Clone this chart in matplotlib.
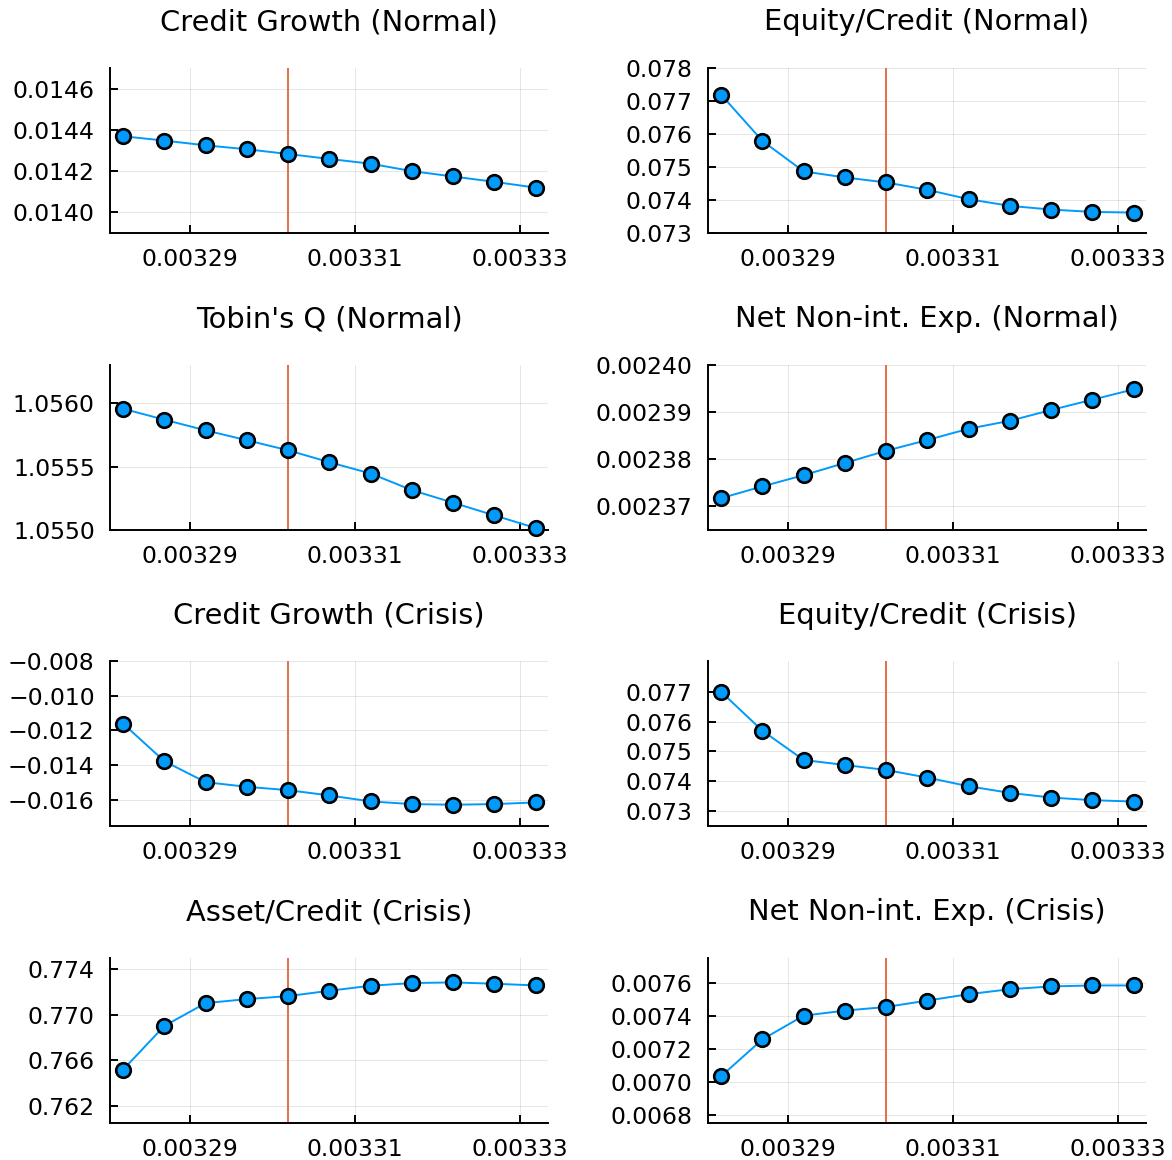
import matplotlib
matplotlib.use("Agg")
import matplotlib.pyplot as plt

plt.rcParams["font.family"] = ["DejaVu Sans"]

# shared x grid and the reference value (vertical line)
x = [0.0032819, 0.0032869, 0.0032919, 0.0032969, 0.0033019, 0.0033069,
     0.0033119, 0.0033169, 0.0033219, 0.0033269, 0.0033319]
x_ref = 0.0033019
xticks = [0.00329, 0.00331, 0.00333]
xtick_labels = ["0.00329", "0.00331", "0.00333"]

titles = [
    "Credit Growth (Normal)", "Equity/Credit (Normal)",
    "Tobin's Q (Normal)", "Net Non-int. Exp. (Normal)",
    "Credit Growth (Crisis)", "Equity/Credit (Crisis)",
    "Asset/Credit (Crisis)", "Net Non-int. Exp. (Crisis)",
]

credit_growth_normal = [0.014369, 0.014348, 0.014325, 0.014306, 0.014283, 0.014259,
                        0.014236, 0.014200, 0.014174, 0.014148, 0.014120]
equity_credit_normal = [0.077189, 0.075789, 0.074866, 0.074684, 0.074531, 0.074308,
                        0.074024, 0.073822, 0.073710, 0.073639, 0.073619]
tobins_q_normal = [1.055955, 1.055869, 1.055785, 1.055707, 1.055628, 1.055534,
                   1.055445, 1.055314, 1.055215, 1.055115, 1.055016]
net_nonint_normal = [0.0023716, 0.0023741, 0.0023765, 0.0023791, 0.0023817, 0.0023840,
                     0.0023864, 0.0023881, 0.0023904, 0.0023926, 0.0023948]
credit_growth_crisis = [-0.011617, -0.013780, -0.014986, -0.015254, -0.015445, -0.015751,
                        -0.016096, -0.016249, -0.016287, -0.016249, -0.016153]
equity_credit_crisis = [0.077000, 0.075693, 0.074710, 0.074542, 0.074374, 0.074117,
                        0.073827, 0.073603, 0.073447, 0.073358, 0.073313]
asset_credit_crisis = [0.765196, 0.769040, 0.771036, 0.771388, 0.771652, 0.772122,
                       0.772562, 0.772797, 0.772855, 0.772738, 0.772591]
net_nonint_crisis = [0.007034, 0.007258, 0.007402, 0.007433, 0.007455, 0.007494,
                     0.007533, 0.007563, 0.007580, 0.007586, 0.007586]

series = [credit_growth_normal, equity_credit_normal, tobins_q_normal, net_nonint_normal,
          credit_growth_crisis, equity_credit_crisis, asset_credit_crisis, net_nonint_crisis]

ylims = [(0.01390, 0.01470), (0.0730, 0.0780), (1.05500, 1.05630), (0.0023648, 0.0024000),
         (-0.017512, -0.008), (0.07249, 0.07804), (0.7605, 0.7750), (0.006749, 0.007753)]

yticks = [
    ([0.0140, 0.0142, 0.0144, 0.0146], ["0.0140", "0.0142", "0.0144", "0.0146"]),
    ([0.073, 0.074, 0.075, 0.076, 0.077, 0.078], ["0.073", "0.074", "0.075", "0.076", "0.077", "0.078"]),
    ([1.0550, 1.0555, 1.0560], ["1.0550", "1.0555", "1.0560"]),
    ([0.00237, 0.00238, 0.00239, 0.00240], ["0.00237", "0.00238", "0.00239", "0.00240"]),
    ([-0.016, -0.014, -0.012, -0.010, -0.008],
     ["\u22120.016", "\u22120.014", "\u22120.012", "\u22120.010", "\u22120.008"]),
    ([0.073, 0.074, 0.075, 0.076, 0.077], ["0.073", "0.074", "0.075", "0.076", "0.077"]),
    ([0.762, 0.766, 0.770, 0.774], ["0.762", "0.766", "0.770", "0.774"]),
    ([0.0068, 0.0070, 0.0072, 0.0074, 0.0076], ["0.0068", "0.0070", "0.0072", "0.0074", "0.0076"]),
]

W, H = 1172, 1160
fig = plt.figure(figsize=(W / 100, H / 100), dpi=100)

col_left = [110, 708]
ax_w = 438
row_top = [68, 365, 661, 958]
ax_h = 165

for i, y in enumerate(series):
    r, c = divmod(i, 2)
    ax = fig.add_axes([col_left[c] / W, 1 - (row_top[r] + ax_h) / H, ax_w / W, ax_h / H])
    ax.grid(True, color="black", alpha=0.1, linewidth=0.7)
    ax.set_axisbelow(True)
    ax.plot(x, y, color="#009AFA", linewidth=1.4, marker="o", markersize=10.5,
            markerfacecolor="#009AFA", markeredgecolor="black", markeredgewidth=1.9,
            clip_on=False, zorder=3)
    ax.axvline(x_ref, color="#E36F47", linewidth=1.4, zorder=2)
    ax.set_xlim(0.0032803, 0.0033334)
    ax.set_ylim(*ylims[i])
    ax.set_xticks(xticks)
    ax.set_xticklabels(xtick_labels)
    ax.set_yticks(yticks[i][0])
    ax.set_yticklabels(yticks[i][1])
    for s in ["top", "right"]:
        ax.spines[s].set_visible(False)
    for s in ["left", "bottom"]:
        ax.spines[s].set_linewidth(1.4)
    ax.tick_params(direction="in", length=6, width=1.4, labelsize=16.9, pad=11)
    ax.set_title(titles[i], fontsize=20.8, pad=27)

fig.savefig("out.png", dpi=100)
